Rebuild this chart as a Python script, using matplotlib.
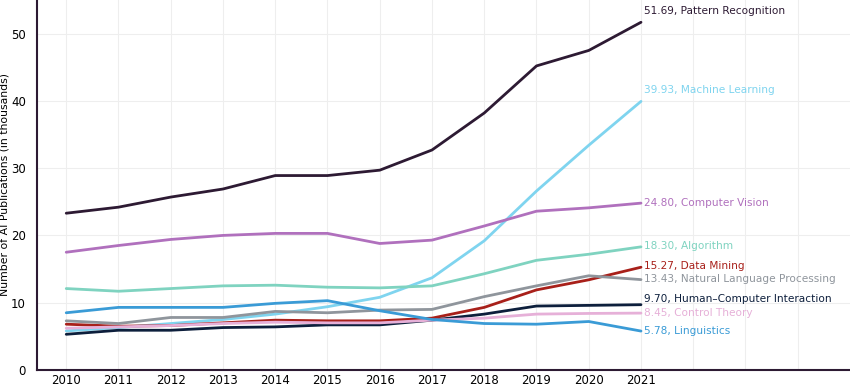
import matplotlib.pyplot as plt

years = list(range(2010, 2022))

pattern_recognition = [23.3, 24.2, 25.7, 26.9, 28.9, 28.9, 29.7, 32.7, 38.2, 45.2, 47.5, 51.69]
machine_learning    = [5.8, 6.3, 6.9, 7.5, 8.3, 9.4, 10.8, 13.7, 19.2, 26.6, 33.4, 39.93]
computer_vision     = [17.5, 18.5, 19.4, 20.0, 20.3, 20.3, 18.8, 19.3, 21.4, 23.6, 24.1, 24.80]
algorithm           = [12.1, 11.7, 12.1, 12.5, 12.6, 12.3, 12.2, 12.5, 14.3, 16.3, 17.2, 18.30]
data_mining         = [6.8, 6.5, 6.6, 7.0, 7.4, 7.3, 7.3, 7.7, 9.3, 11.9, 13.4, 15.27]
nlp                 = [7.3, 6.9, 7.8, 7.8, 8.7, 8.5, 8.9, 9.0, 10.9, 12.5, 14.0, 13.43]
hci                 = [5.3, 5.9, 5.9, 6.3, 6.4, 6.7, 6.7, 7.4, 8.3, 9.5, 9.6, 9.70]
control_theory      = [6.2, 6.4, 6.6, 6.9, 7.1, 7.0, 7.0, 7.4, 7.7, 8.3, 8.4, 8.45]
linguistics         = [8.5, 9.3, 9.3, 9.3, 9.9, 10.3, 8.8, 7.5, 6.9, 6.8, 7.2, 5.78]

series = [
    ("Pattern Recognition", pattern_recognition, "#2d1a33", 53.4),
    ("Machine Learning", machine_learning, "#7fd4ef", 41.6),
    ("Computer Vision", computer_vision, "#b070bd", 24.8),
    ("Algorithm", algorithm, "#7fd3c0", 18.4),
    ("Data Mining", data_mining, "#a8201a", 15.4),
    ("Natural Language Processing", nlp, "#8f959c", 13.5),
    ("Human\u2013Computer Interaction", hci, "#0d1f3c", 10.6),
    ("Control Theory", control_theory, "#e6b0d8", 8.5),
    ("Linguistics", linguistics, "#3a9bd6", 5.8),
]

fig = plt.figure(figsize=(8.5, 3.89), dpi=100)
ax = fig.add_axes([0.0435, 0.049, 0.9565, 0.951])

for name, vals, color, ylab in series:
    ax.plot(years, vals, color=color, lw=2, solid_capstyle="round")
    ax.text(2021.06, ylab, f"{vals[-1]:.2f}, {name}", color=color,
            fontsize=7.6, va="center", ha="left")

ax.set_xlim(2009.44, 2025.0)
ax.set_ylim(0, 55)
ax.set_xticks(range(2010, 2025))
ax.set_xticklabels([str(y) if y <= 2021 else "" for y in range(2010, 2025)])
ax.set_yticks([0, 10, 20, 30, 40, 50])
ax.tick_params(axis="both", length=0, labelsize=8.5)
ax.tick_params(axis="x", pad=3)
ax.tick_params(axis="y", pad=8)
ax.grid(True, color="#eeeeee", lw=0.8)
ax.set_axisbelow(True)
ax.set_ylabel("Number of AI Publications (in thousands)", fontsize=7.8)
ax.yaxis.set_label_coords(-0.034, 0.5)

for side in ["top", "right"]:
    ax.spines[side].set_visible(False)
for side in ["left", "bottom"]:
    ax.spines[side].set_color("#2d1a33")
    ax.spines[side].set_linewidth(1.5)

fig.savefig("out.png", dpi=100)
